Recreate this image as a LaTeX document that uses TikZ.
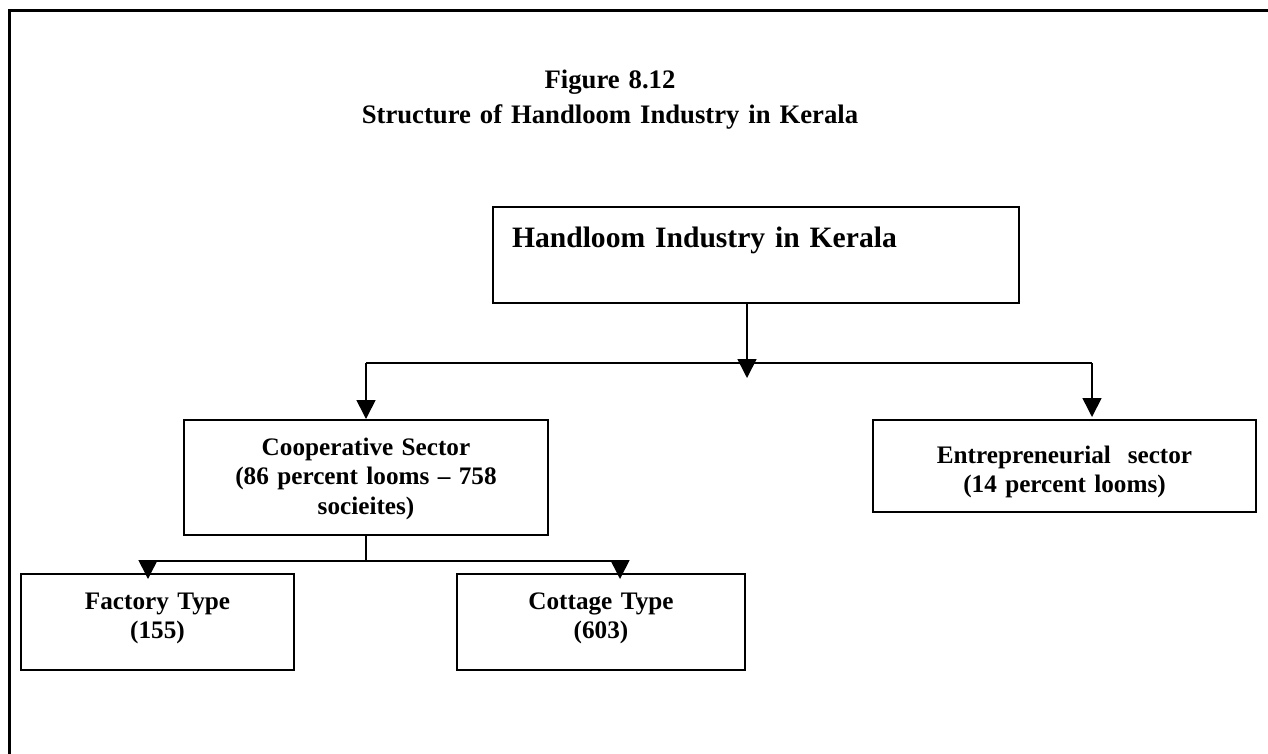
\documentclass[tikz,border=0pt]{standalone}
\usepackage{fontspec}
\setmainfont{Liberation Serif}
\usetikzlibrary{arrows.meta}
\begin{document}
\begin{tikzpicture}[x=1pt,y=-1pt,
  box/.style={draw, line width=2pt, rectangle, inner sep=0pt,
    font=\bfseries\fontsize{25.2}{29.5}\selectfont, align=center, text height=18pt},
  conn/.style={line width=1.6pt},
  arr/.style={conn, -{Triangle[length=19pt,width=19pt]}},
]
\useasboundingbox (0,0) rectangle (1268,753);
\clip (0,0) rectangle (1268,753);
\draw[line width=3pt] (9,10.5) rectangle (1300,800);

\node[font=\bfseries\fontsize{26.7}{35.5}\selectfont, text width=700pt, align=center,
  anchor=base, inner sep=0pt] (title) at (610,88)
  {Figure 8.12\\Structure of Handloom Industry in Kerala};

\node[box, font=\bfseries\fontsize{29.6}{36}\selectfont, align=left, text width=488pt,
  inner xsep=19pt, minimum height=96pt, text height=21pt, text depth=37pt]
  (main) at (756,255) {Handloom Industry in Kerala};

\node[box, minimum width=364pt, minimum height=115pt, text width=360pt, text depth=63pt]
  (coop) at (366,477.5) {Cooperative Sector\\(86 percent looms – 758\\socieites)};

\node[box, minimum width=383pt, minimum height=92pt, text width=380pt, text depth=24pt]
  (ent) at (1064.5,466) {Entrepreneurial\ \ sector\\(14 percent looms)};

\node[box, minimum width=273pt, minimum height=96pt, text width=270pt, text depth=44pt]
  (fac) at (157.5,622) {Factory Type\\(155)};

\node[box, minimum width=288pt, minimum height=96pt, text width=285pt, text depth=44pt]
  (cot) at (601,622) {Cottage Type\\(603)};

\coordinate (mtip) at (747,378);
\coordinate (hl) at (366,363);
\coordinate (hr) at (1092,363);
\coordinate (cj) at (366,561);
\coordinate (cl) at (148,561);
\coordinate (cr) at (620,561);

\draw[conn] (hl) -- (hr);
\draw[arr] (main.south -| mtip) -- (mtip);
\draw[arr] (hl) -- (coop.north);
\draw[arr] (hr) -- ([yshift=2pt]ent.north -| hr);
\draw[conn] (coop.south) -- (cj);
\draw[conn] (cl) -- (cr);
\draw[arr] (cl) -- ([yshift=-6pt]fac.north -| cl);
\draw[arr] (cr) -- ([yshift=-6pt]cot.north -| cr);
\end{tikzpicture}
\end{document}
